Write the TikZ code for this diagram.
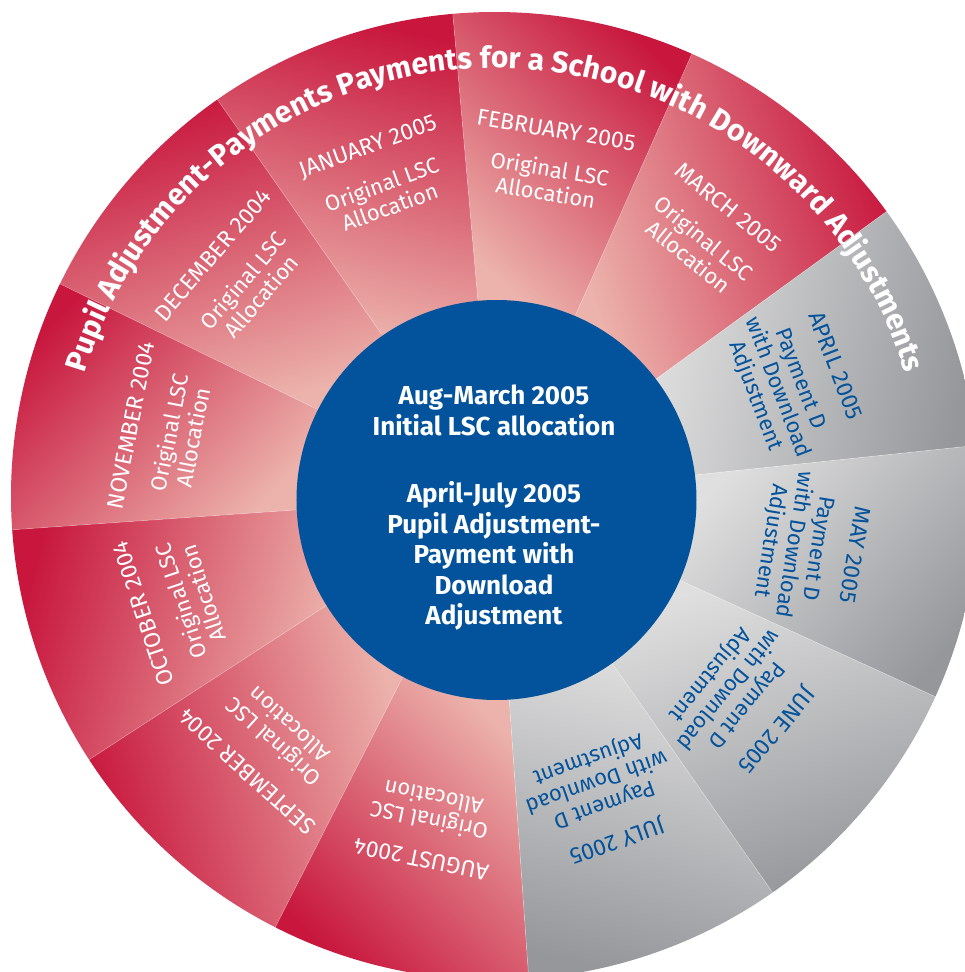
\documentclass[tikz,border=0pt]{standalone}
\usepackage{fontspec}
\setmainfont{Fira Sans}
\definecolor{CrimsonDark}{HTML}{C8163D}
\definecolor{BlushLight}{HTML}{ECB3AC}
\definecolor{SteelDark}{HTML}{95979B}
\definecolor{SteelLight}{HTML}{DFDFDF}
\definecolor{RoyalBlue}{HTML}{02529C}
\usetikzlibrary{decorations.text}

\newcommand{\bandfont}{\fontsize{30}{36}\selectfont\bfseries\color{white}}

\tikzset{
  monthlabel/.style={font=\fontsize{23}{26}\selectfont, align=center, inner sep=0pt},
  sublabel/.style={font=\fontsize{22}{24}\selectfont, align=center, inner sep=0pt},
}

\begin{document}
\begin{tikzpicture}[x=1pt, y=1pt]
    \useasboundingbox (-495,-476) rectangle (469,496);

    % Red months (original LSC allocation)
    \foreach \a/\b/\mon [count=\i] in {36/66/MARCH 2005, 66/95/FEBRUARY 2005, 95/125/JANUARY 2005,
        125/154/DECEMBER 2004, 154/184/NOVEMBER 2004, 184/213/OCTOBER 2004,
        213/243/SEPTEMBER 2004, 243/274/AUGUST 2004} {
        \pgfmathsetmacro{\m}{(\a+\b)/2}
        \pgfmathsetmacro{\sa}{\m-123}
        \shade[top color=CrimsonDark, bottom color=BlushLight, shading angle=\sa]
            (\a:195) -- (\a:484) arc[start angle=\a, end angle=\b, radius=484]
            -- (\b:195) arc[start angle=\b, end angle=\a, radius=195] -- cycle;
        \node[monthlabel, text=white, rotate=\m-90] (red-\i) at (\m:371) {\mon};
        \node[sublabel, text=white, rotate=\m-90] (redsub-\i) at (\m:320) {Original LSC\\Allocation};
    }

    % Grey months (payment D)
    \foreach \a/\b/\mon [count=\i] in {6/36/APRIL 2005, 335.5/366/MAY 2005,
        305/335.5/JUNE 2005, 274/305/JULY 2005} {
        \pgfmathsetmacro{\m}{(\a+\b)/2}
        \pgfmathsetmacro{\sa}{\m-123}
        \shade[top color=SteelDark, bottom color=SteelLight, shading angle=\sa]
            (\a:195) -- (\a:484) arc[start angle=\a, end angle=\b, radius=484]
            -- (\b:195) arc[start angle=\b, end angle=\a, radius=195] -- cycle;
        \node[monthlabel, text=RoyalBlue, rotate=\m-90] (grey-\i) at (\m:365) {\mon};
        \node[sublabel, text=RoyalBlue, rotate=\m-90] (greysub-\i) at (\m:302) {Payment D\\with Download\\Adjustment};
    }

    % Seams between wedges
    \foreach \a in {6, 36, 66, 95, 125, 154, 184, 213, 243, 274, 305, 335.5}
        \draw[white, opacity=0.3, line width=0.7pt] (\a:198) -- (\a:484);

    % Title round the rim
    \path[decorate, decoration={text along path, text align=center,
        text={|\bandfont|Pupil Adjustment-Payments Payments for a School with Downward Adjustments}}]
        (176:428) arc[start angle=176, end angle=4, radius=428];

    % Centre
    \node[circle, fill=RoyalBlue, minimum size=400pt, inner sep=0pt] (core) at (1.5,-4) {};
    \node[align=center, text=white, font=\fontsize{26}{30.5}\selectfont\bfseries] (coretext) at (-1,-12)
        {Aug-March 2005\\Initial LSC allocation\\[37pt]April-July 2005\\Pupil Adjustment-\\Payment with\\Download\\Adjustment};
\end{tikzpicture}
\end{document}
